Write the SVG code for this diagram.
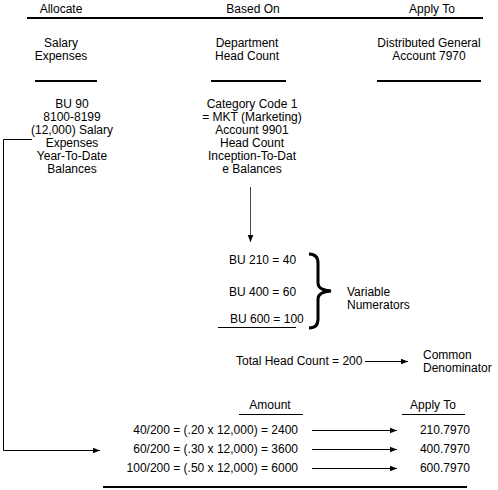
<svg xmlns="http://www.w3.org/2000/svg" width="498" height="490" viewBox="0 0 498 490">
<style>
text{font-family:"Liberation Sans",Arial,sans-serif;font-size:12px;fill:#000}
.c{text-anchor:middle}
.r{text-anchor:end}
.rule{stroke:#000;stroke-width:2;fill:none}
.ln{stroke:#000;stroke-width:1;fill:none}
</style>
<defs>
<marker id="ah" viewBox="0 0 10 10" refX="10" refY="5" markerWidth="7" markerHeight="7" markerUnits="userSpaceOnUse" orient="auto">
<path d="M0,1 L10,5 L0,9 Z" fill="#000"/>
</marker>
</defs>
<g id="headers">
<text class="c" x="61" y="13">Allocate</text>
<text class="c" x="253" y="13">Based On</text>
<text class="c" x="432" y="13">Apply To</text>
<line class="rule" x1="27" y1="18" x2="483" y2="18"/>
</g>
<g id="allocate">
<text class="c" x="61" y="47">Salary</text>
<text class="c" x="61" y="60">Expenses</text>
<line class="rule" x1="35" y1="81" x2="97" y2="81"/>
<text class="c" x="72" y="108">BU 90</text>
<text class="c" x="72" y="121">8100-8199</text>
<text class="c" x="72" y="134">(12,000) Salary</text>
<text class="c" x="72" y="147">Expenses</text>
<text class="c" x="72" y="160">Year-To-Date</text>
<text class="c" x="72" y="173">Balances</text>
</g>
<g id="basedon">
<text class="c" x="247" y="47">Department</text>
<text class="c" x="247" y="60">Head Count</text>
<line class="rule" x1="211" y1="81" x2="286" y2="81"/>
<text class="c" x="252" y="108">Category Code 1</text>
<text class="c" x="252" y="121">= MKT (Marketing)</text>
<text class="c" x="252" y="134">Account 9901</text>
<text class="c" x="252" y="147">Head Count</text>
<text class="c" x="252" y="160">Inception-To-Dat</text>
<text class="c" x="252" y="173">e Balances</text>
</g>
<g id="applyto">
<text class="c" x="429" y="47">Distributed General</text>
<text class="c" x="429" y="60">Account 7970</text>
<line class="rule" x1="377" y1="81" x2="481" y2="81"/>
</g>
<g id="numerators">
<text x="229" y="264">BU 210 = 40</text>
<text x="229" y="296">BU 400 = 60</text>
<text x="230" y="323">BU 600 = 100</text>
<line class="ln" x1="218" y1="327.5" x2="296" y2="327.5"/>
<path d="M309 254 Q318 254 318 263 L318 283 Q318 290 331 291 Q318 292 318 299 L318 319 Q318 328 309 328" stroke="#000" stroke-width="3" fill="none"/>
<text x="347" y="296">Variable</text>
<text x="347" y="309">Numerators</text>
</g>
<g id="denominator">
<text x="236" y="365">Total Head Count = 200</text>
<text x="423" y="359">Common</text>
<text x="423" y="372">Denominator</text>
</g>
<g id="results">
<text class="c" x="270" y="409">Amount</text>
<line class="ln" x1="239" y1="414.5" x2="303" y2="414.5"/>
<text class="c" x="433" y="409">Apply To</text>
<line class="ln" x1="402" y1="414.5" x2="465" y2="414.5"/>
<text class="r" x="298" y="434">40/200 = (.20 x 12,000) = 2400</text>
<text class="r" x="298" y="453">60/200 = (.30 x 12,000) = 3600</text>
<text class="r" x="298" y="472">100/200 = (.50 x 12,000) = 6000</text>
<text class="r" x="470" y="434">210.7970</text>
<text class="r" x="470" y="453">400.7970</text>
<text class="r" x="470" y="472">600.7970</text>
<line class="rule" x1="103" y1="487" x2="467" y2="487"/>
</g>
<g id="connectors">
<path class="ln" d="M32 139.5 L3.5 139.5 L3.5 450.5 L100 450.5" marker-end="url(#ah)"/>
<line x1="250.5" y1="187" x2="250.5" y2="242" stroke="#444" stroke-width="1" marker-end="url(#ah)"/>
<line class="ln" x1="365" y1="361.5" x2="408" y2="361.5" marker-end="url(#ah)"/>
<line class="ln" x1="312" y1="430.5" x2="397" y2="430.5" marker-end="url(#ah)"/>
<line class="ln" x1="312" y1="449.5" x2="397" y2="449.5" marker-end="url(#ah)"/>
<line class="ln" x1="312" y1="468.5" x2="397" y2="468.5" marker-end="url(#ah)"/>
</g>
</svg>
